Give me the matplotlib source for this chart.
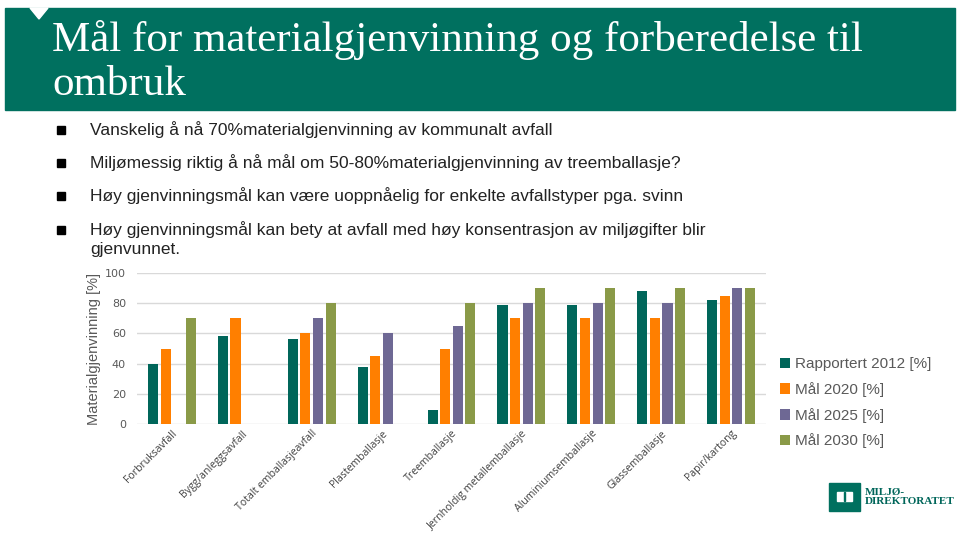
import numpy as np
import matplotlib
matplotlib.use("Agg")
import matplotlib.pyplot as plt
from matplotlib.patches import Rectangle, Polygon

categories = ["Forbruksavfall", "Bygg/anleggsavfall", "Totalt emballasjeavfall",
              "Plastemballasje", "Treemballasje", "Jernholdig metallemballasje",
              "Aluminiumsemballasje", "Glassemballasje", "Papir/kartong"]
rapportert_2012 = [40, 58, 56, 38, 9, 79, 79, 88, 82]
maal_2020 = [50, 70, 60, 45, 50, 70, 70, 70, 85]
maal_2025 = [np.nan, np.nan, 70, 60, 65, 80, 80, 80, 90]
maal_2030 = [70, np.nan, 80, np.nan, 80, 90, 90, 90, 90]
series_names = ["Rapportert 2012 [%]", "Mål 2020 [%]", "Mål 2025 [%]", "Mål 2030 [%]"]
colors = ["#00665a", "#ff7f00", "#6e6894", "#8a9a48"]

title = "Mål for materialgjenvinning og forberedelse til\nombruk"
bullets = [
    "Vanskelig å nå 70%materialgjenvinning av kommunalt avfall",
    "Miljømessig riktig å nå mål om 50-80%materialgjenvinning av treemballasje?",
    "Høy gjenvinningsmål kan være uoppnåelig for enkelte avfallstyper pga. svinn",
    "Høy gjenvinningsmål kan bety at avfall med høy konsentrasjon av miljøgifter blir\ngjenvunnet.",
]

W, H = 960, 537
fig = plt.figure(figsize=(9.6, 5.37), dpi=100)

# header band
fig.patches.append(Rectangle((5 / W, 1 - 110 / H), 950 / W, 102 / H,
                             transform=fig.transFigure, color="#00705f", zorder=0))
fig.patches.append(Polygon([(30 / W, 1 - 8 / H), (48 / W, 1 - 8 / H), (39 / W, 1 - 19 / H)],
                           closed=True, transform=fig.transFigure, color="white", zorder=1))
fig.text(52 / W, 1 - 20 / H, title, color="white", family="Liberation Serif",
         fontsize=31, va="top", ha="left", linespacing=1.2)

# bullet points
bullet_y = [130, 163, 196, 230]
for yy, txt in zip(bullet_y, bullets):
    fig.patches.append(Rectangle((57 / W, 1 - (yy + 4) / H), 8 / W, 8 / H,
                                 transform=fig.transFigure, color="black"))
    if "\n" in txt:
        fig.text(90 / W, 1 - (yy - 9) / H, txt, fontsize=12.5, family="Liberation Sans",
                 color="#222222", va="top", ha="left", linespacing=1.3)
    else:
        fig.text(90 / W, 1 - yy / H, txt, fontsize=12.5, family="Liberation Sans",
                 color="#222222", va="center", ha="left")

# chart
ax = fig.add_axes([137 / W, 1 - 424 / H, 629 / W, (424 - 273) / H])
x = np.arange(len(categories))
slot = 0.18
bw = 0.145
all_series = [rapportert_2012, maal_2020, maal_2025, maal_2030]
for i, (vals, c, name) in enumerate(zip(all_series, colors, series_names)):
    ax.bar(x + (i - 1.5) * slot, vals, width=bw, color=c, label=name, zorder=3)

ax.set_xlim(-0.5, len(categories) - 0.5)
ax.set_ylim(0, 100)
ax.set_yticks(range(0, 101, 20))
ax.grid(axis="y", color="#d9d9d9", linewidth=1, zorder=0)
for s in ax.spines.values():
    s.set_visible(False)
ax.tick_params(axis="both", length=0, colors="#595959", labelsize=8)
ax.tick_params(axis="y", pad=8)
ax.set_xticks(x)
ax.set_xticklabels(categories, rotation=45, ha="right", rotation_mode="anchor",
                   family="Open Sans", fontsize=7.6, color="#404040")
ax.tick_params(axis="x", pad=3)
ax.set_ylabel("Materialgjenvinning [%]", color="#595959", fontsize=10.5,
              family="Liberation Sans", labelpad=3)

leg = ax.legend(loc="center left", bbox_to_anchor=(1.0, 0.14), frameon=False,
                handlelength=0.7, handleheight=0.7, handletextpad=0.3,
                labelspacing=0.7, prop={"family": "Liberation Sans", "size": 11})
for t in leg.get_texts():
    t.set_color("#595959")

# logo
fig.patches.append(Rectangle((829 / W, 1 - 511 / H), 31 / W, 28 / H,
                             transform=fig.transFigure, color="#00705f"))
fig.patches.append(Rectangle((837 / W, 1 - 501 / H), 15 / W, 9 / H,
                             transform=fig.transFigure, color="white"))
fig.patches.append(Rectangle((844 / W, 1 - 501 / H), 1 / W, 9 / H,
                             transform=fig.transFigure, color="#00705f"))
fig.text(865 / W, 1 - 497 / H, "MILJØ-\nDIREKTORATET", color="#00665a",
         family="Liberation Serif", fontweight="bold", fontsize=8,
         va="center", ha="left", linespacing=1.0)

fig.savefig("out.png", dpi=100)
